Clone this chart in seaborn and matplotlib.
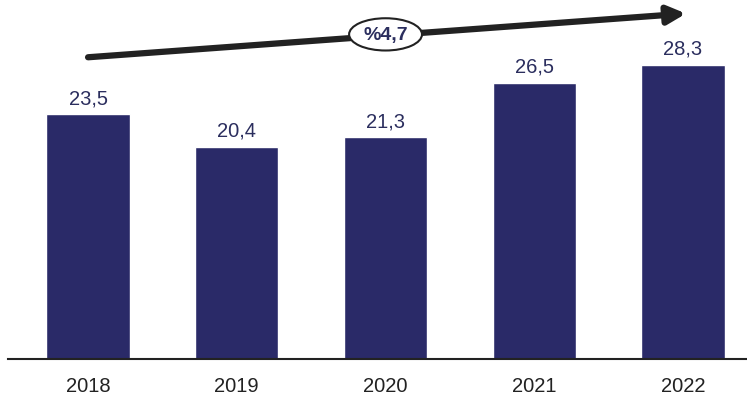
import matplotlib
matplotlib.use("Agg")
import matplotlib.pyplot as plt
import seaborn as sns
from matplotlib.patches import Ellipse

years = ["2018", "2019", "2020", "2021", "2022"]
values = [23.5, 20.4, 21.3, 26.5, 28.3]
value_labels = ["23,5", "20,4", "21,3", "26,5", "28,3"]
growth_label = "%4,7"

sns.set_theme(style="white")
plt.rcParams["font.family"] = ["Liberation Sans", "DejaVu Sans"]

bar_color = "#2a2a68"
text_color = "#2b2e5e"

fig = plt.figure(figsize=(7.47, 4.02), dpi=100)
ax = fig.add_axes([0, 0.1045, 1, 0.8955])

sns.barplot(x=years, y=values, color=bar_color, width=0.56, saturation=1, ax=ax)

for i, (v, lab) in enumerate(zip(values, value_labels)):
    ax.text(i, v + 0.7, lab, ha="center", va="bottom", fontsize=14.5, color=text_color)

ax.set_xlim(-0.592, 4.43)
ax.set_ylim(0, 34.6)

# trend arrow with growth rate
ax.annotate("", xy=(4.02, 33.2), xytext=(0, 29.0),
            arrowprops=dict(arrowstyle="-|>,head_length=0.9,head_width=0.45",
                            color="#222222", lw=4.5, shrinkA=0, shrinkB=0))
ax.add_patch(Ellipse((2.0, 31.2), 0.49, 3.1, facecolor="white",
                     edgecolor="#222222", lw=1.5, zorder=5))
ax.text(2.0, 31.2, growth_label, ha="center", va="center", fontsize=14,
        fontweight="bold", color=text_color, zorder=6)

sns.despine(ax=ax, left=True, top=True, right=True)
ax.spines["bottom"].set_color("#222222")
ax.spines["bottom"].set_linewidth(1.5)
ax.spines["bottom"].set_bounds(-0.54, 4.43)
ax.set_yticks([])
ax.tick_params(axis="x", length=0, labelsize=14.5, colors="#222222", pad=12)
ax.set_xlabel("")
ax.set_ylabel("")

fig.savefig("out.png", dpi=100)
